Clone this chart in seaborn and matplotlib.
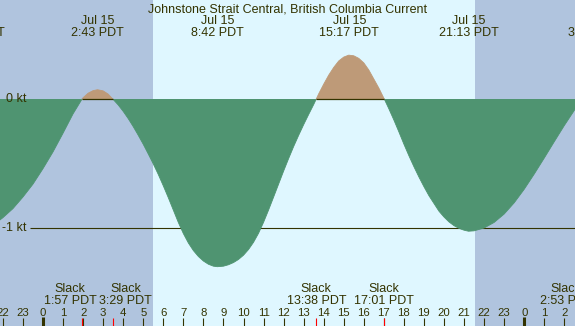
import numpy as np
import pandas as pd
import matplotlib.pyplot as plt
import matplotlib.transforms as mtransforms
import seaborn as sns

# current curve (hours from Jul 15 00:00 PDT, knots)
hours = [-2.5, -2.0, -1.5, -1.0, -0.5, 0.0, 0.5, 1.0, 1.5, 1.95,
         2.0, 2.25, 2.5, 2.72, 3.0, 3.25, 3.48,
         3.75, 4.0, 4.25, 4.5, 4.75, 5.0, 5.25, 5.5, 5.75, 6.0, 6.25, 6.5, 6.75,
         7.0, 7.25, 7.5, 7.75, 8.0, 8.25, 8.5, 8.7,
         9.0, 9.25, 9.5, 9.75, 10.0, 10.25, 10.5, 10.75, 11.0, 11.25, 11.5, 11.75,
         12.0, 12.25, 12.5, 12.75, 13.0, 13.25, 13.5, 13.63,
         13.75, 14.0, 14.25, 14.5, 14.75, 15.0, 15.25, 15.5, 15.75, 16.0, 16.25,
         16.5, 16.75, 17.02,
         17.25, 17.5, 17.75, 18.0, 18.25, 18.5, 18.75, 19.0, 19.25, 19.5, 19.75,
         20.0, 20.25, 20.5, 20.75, 21.0, 21.22,
         21.5, 22.0, 22.5, 23.0, 23.5, 24.0, 24.5, 25.0, 25.5, 26.0, 26.5, 26.88]
knots = [-0.98, -0.92, -0.85, -0.76, -0.66, -0.54, -0.41, -0.265, -0.115, 0.0,
         0.01, 0.045, 0.065, 0.072, 0.063, 0.038, 0.0,
         -0.046, -0.096, -0.152, -0.214, -0.281, -0.351, -0.426, -0.503, -0.585,
         -0.673, -0.765, -0.861, -0.957,
         -1.043, -1.116, -1.175, -1.221, -1.256, -1.281, -1.296, -1.30,
         -1.296, -1.285, -1.268, -1.244, -1.211, -1.167, -1.111, -1.041, -0.956,
         -0.861, -0.761, -0.66,
         -0.559, -0.462, -0.369, -0.282, -0.199, -0.12, -0.043, 0.0,
         0.04, 0.115, 0.185, 0.245, 0.295, 0.325, 0.34, 0.335, 0.315, 0.28, 0.225,
         0.155, 0.085, 0.0,
         -0.076, -0.163, -0.255, -0.35, -0.44, -0.525, -0.605, -0.68, -0.75, -0.81,
         -0.87, -0.915, -0.953, -0.982, -1.003, -1.017, -1.025,
         -1.022, -1.0, -0.957, -0.892, -0.805, -0.70, -0.582, -0.458, -0.331,
         -0.206, -0.088, 0.0]

# max flood / ebb events (top labels)
max_times = [-3.4, 2.72, 8.70, 15.28, 21.22, 27.5]
max_dates = ['Jul 14', 'Jul 15', 'Jul 15', 'Jul 15', 'Jul 15', 'Jul 16']
max_clock = ['20:36 PDT', '2:43 PDT', '8:42 PDT', '15:17 PDT', '21:13 PDT', '3:30 PDT']

# slack events (bottom labels)
slack_times = [1.95, 3.48, 13.63, 17.02, 26.88]
slack_clock = ['1:57 PDT', '3:29 PDT', '13:38 PDT', '17:01 PDT', '2:53 PDT']
slack_nudge = [-0.6, 0.65, 0.0, 0.0, -0.8]

sunrise = 5.5
sunset = 21.55
hour_ticks = list(range(-2, 27))

NIGHT = '#B0C4DE'
DAY = '#DFF7FF'
EBB = '#4F9471'
FLOOD = '#BE9A78'
INK = '#333300'

sns.set_theme(style='white')
plt.rcParams['font.family'] = ['Liberation Sans', 'DejaVu Sans']

fig = plt.figure(figsize=(5.75, 3.26), dpi=100)
ax = fig.add_axes([0, 0, 1, 1])
ax.set_facecolor(DAY)
for s in ax.spines.values():
    s.set_visible(False)
ax.set_xticks([])
ax.set_yticks([])
ax.set_xlim(-43 / 20.05, 532 / 20.05)
ax.set_ylim(-227 / 129, 99 / 129)

# night shading
ax.axvspan(-5, sunrise, color=NIGHT, lw=0, zorder=0)
ax.axvspan(sunset, 30, color=NIGHT, lw=0, zorder=0)

# -1 kt reference line (under the fill)
ax.hlines(-1, -0.65, 30, color=INK, lw=0.8, zorder=1)

h = np.array(hours)
k = np.array(knots)
ax.fill_between(h, k, 0, where=k <= 0, interpolate=True, color=EBB, lw=0, zorder=2)
ax.fill_between(h, k, 0, where=k >= 0, interpolate=True, color=FLOOD, lw=0, zorder=2)

# outline each ebb / flood lobe in its own colour
rows = []
seg = 0
for i, (hh, kk) in enumerate(zip(hours, knots)):
    rows.append((hh, kk, seg))
    if kk == 0 and 0 < i < len(hours) - 1:
        seg += 1
        rows.append((hh, kk, seg))
df = pd.DataFrame(rows, columns=['hour', 'knots', 'seg'])
df['dir'] = df.groupby('seg')['knots'].transform(lambda v: 'flood' if v.max() > 0 else 'ebb')
sns.lineplot(data=df, x='hour', y='knots', hue='dir', units='seg', estimator=None,
             palette={'ebb': EBB, 'flood': FLOOD}, legend=False, lw=0.6, ax=ax, zorder=2.5)

# zero line under the flood lobes
for a, b in zip(slack_times[0::2], slack_times[1::2]):
    ax.hlines(0, a, b, color=INK, lw=0.9, zorder=3)

ax.text(-0.8, 0, '0 kt', ha='right', va='center', fontsize=9, color=INK, zorder=4)
ax.text(-0.8, -1, '-1 kt', ha='right', va='center', fontsize=9, color=INK, zorder=4)

H = 326.0
trans = mtransforms.blended_transform_factory(ax.transData, fig.transFigure)

fig.text(0.5, 1 - 12 / H, 'Johnstone Strait Central, British Columbia Current',
         ha='center', va='baseline', fontsize=9, color=INK)

for t, d, c in zip(max_times, max_dates, max_clock):
    ax.text(t, 1 - 24 / H, d, transform=trans, ha='center', va='baseline', fontsize=9, color=INK)
    ax.text(t, 1 - 36 / H, c, transform=trans, ha='center', va='baseline', fontsize=9, color=INK)

for t, c, n in zip(slack_times, slack_clock, slack_nudge):
    ax.text(t + n, 1 - 292 / H, 'Slack', transform=trans, ha='center', va='baseline', fontsize=9, color=INK)
    ax.text(t + n, 1 - 303.5 / H, c, transform=trans, ha='center', va='baseline', fontsize=9, color=INK)

# hour labels and ticks
for t in hour_ticks:
    ax.text(t, 1 - 316 / H, str(t % 24), transform=trans, ha='center', va='baseline',
            fontsize=8.2, color=INK)
ticks = [t for t in hour_ticks if t % 24 != 0]
mids = [t for t in hour_ticks if t % 24 == 0]
ax.vlines(ticks, 0, 8 / H, transform=trans, color=INK, lw=0.8, zorder=5)
ax.vlines(mids, 0, 9 / H, transform=trans, color=INK, lw=2.2, zorder=5)
ax.vlines(slack_times, 0, 8 / H, transform=trans, color='red', lw=0.8, zorder=6)

fig.savefig('out.png', dpi=100)
